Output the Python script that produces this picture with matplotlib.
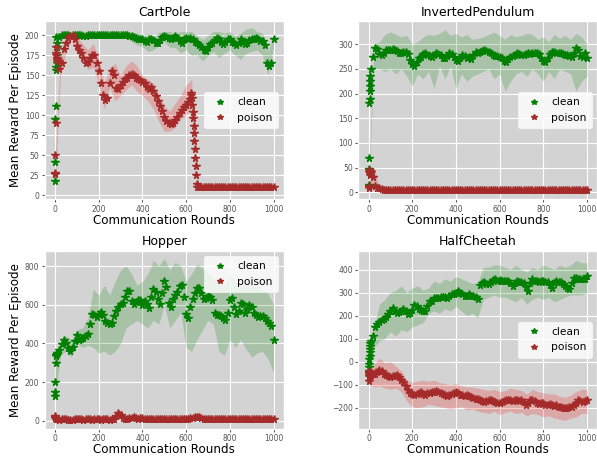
import matplotlib
matplotlib.use("Agg")
import matplotlib.pyplot as plt

plt.style.use("ggplot")

# x positions: single rounds at the start, then every 10 rounds
rounds = list(range(10)) + list(range(10, 1001, 10))
band_rounds = list(range(0, 1001, 25))

# ---------------- CartPole ----------------
cp_clean = [18, 41, 95, 112, 198, 157, 160, 165, 175, 185,
            190, 198, 200, 200, 200, 200, 199, 199, 200, 200,
            200, 200, 199, 199, 200, 200, 200, 200, 200, 200,
            200, 200, 200, 200, 200, 200, 200, 200, 200, 200,
            200, 200, 200, 199, 199, 198, 197, 196, 196, 195,
            193, 192, 195, 196, 194, 191, 190, 194, 198, 199,
            198, 197, 195, 197, 199, 197, 193, 191, 195, 197,
            196, 197, 195, 192, 191, 188, 185, 182, 181, 186,
            189, 191, 194, 197, 196, 192, 189, 192, 196, 195,
            192, 190, 188, 191, 195, 192, 189, 190, 194, 195,
            196, 197, 195, 193, 193, 188, 165, 162, 166, 195]
cp_clean_lo = [15, 195, 197, 197, 198, 198, 198, 199, 199, 199, 199, 199, 199, 197,
               192, 188, 186, 180, 182, 188, 192, 185, 185, 178, 182, 175, 176, 168,
               175, 180, 172, 178, 182, 175, 170, 178, 180, 182, 175, 150, 185]
cp_clean_hi = [25, 201, 202, 202, 201, 201, 201, 201, 201, 201, 201, 201, 201, 201,
               202, 203, 200, 202, 198, 204, 205, 205, 203, 205, 205, 205, 200, 195,
               200, 205, 205, 203, 205, 200, 203, 208, 210, 205, 203, 180, 200]

cp_poison_rounds = (list(range(10)) + list(range(10, 621, 10))
                    + list(range(622, 650, 2)) + list(range(650, 1001, 10)))
cp_poison = ([26, 28, 50, 90, 185, 178, 175, 172, 170, 168,
              170, 158, 165, 183, 190, 197, 199, 200, 196, 187,
              182, 178, 172, 166, 167, 172, 176, 175, 165, 156,
              140, 125, 119, 122, 140, 155, 150, 134, 133, 138,
              142, 145, 147, 150, 152, 150, 147, 145, 144, 142,
              140, 136, 133, 135, 130, 124, 118, 112, 105, 98,
              93, 90, 89, 90, 94, 98, 103, 107, 110, 113,
              117, 121,
              125, 128, 122, 113, 104, 96, 87, 78, 68, 58, 47, 36, 25, 14]
             + [10] * 36)
cp_poison_lo = [10, 150, 180, 195, 178, 170, 158, 160, 140, 108, 135, 118, 125, 132,
                138, 130, 125, 118, 108, 92, 80, 80, 85, 95, 100, 110, 9, 9,
                9, 9, 9, 9, 9, 9, 9, 9, 9, 9, 9, 9, 9]
cp_poison_hi = [40, 175, 195, 203, 198, 190, 182, 190, 172, 140, 160, 165, 150, 162,
                168, 162, 150, 145, 140, 125, 112, 105, 115, 125, 138, 145, 11, 11,
                11, 11, 11, 11, 11, 11, 11, 11, 11, 11, 11, 11, 11]

# ---------------- InvertedPendulum ----------------
ip_clean = [12, 15, 48, 70, 180, 190, 205, 215, 225, 235,
            250, 275, 293, 290, 280, 278, 283, 288, 289, 289,
            290, 288, 286, 282, 283, 285, 284, 280, 268, 260,
            255, 265, 272, 275, 280, 282, 279, 276, 275, 278,
            282, 281, 278, 273, 272, 276, 282, 280, 275, 268,
            266, 272, 278, 276, 273, 275, 270, 278, 285, 283,
            284, 286, 288, 287, 284, 282, 279, 277, 276, 275,
            272, 266, 265, 270, 275, 276, 279, 282, 281, 279,
            278, 280, 282, 281, 282, 283, 282, 280, 272, 266,
            265, 272, 280, 285, 284, 283, 282, 282, 280, 279,
            278, 276, 274, 282, 292, 288, 277, 275, 282, 272]
ip_clean_lo = [5, 250, 250, 245, 250, 240, 250, 235, 215, 240, 230, 245, 210, 255,
               230, 255, 210, 240, 225, 235, 240, 245, 250, 230, 240, 205, 225, 240,
               245, 235, 250, 240, 225, 245, 230, 250, 245, 240, 205, 225, 235]
ip_clean_hi = [20, 300, 305, 320, 325, 320, 315, 318, 300, 305, 315, 320, 318, 322,
               330, 318, 322, 315, 320, 310, 312, 315, 320, 325, 318, 310, 320, 315,
               318, 322, 320, 310, 315, 305, 320, 312, 318, 310, 322, 315, 300]

ip_poison = ([10, 8, 12, 45, 40, 38, 35, 42, 40, 38,
              40, 30, 12, 9, 8, 7, 5, 4, 4, 4]
             + [4] * 90)
ip_poison_lo = [3, 10, 3, 3] + [3] * 37
ip_poison_hi = [15, 50, 12, 5] + [5] * 37

# ---------------- Hopper ----------------
hp_clean = [130, 150, 200, 300, 340, 335, 340, 345, 348, 350,
            352, 365, 395, 420, 400, 375, 360, 380, 415, 442,
            420, 425, 430, 438, 450, 500, 550, 545, 535, 550,
            565, 545, 515, 505, 500, 505, 540, 570, 590, 605,
            610, 640, 670, 670, 620, 602, 615, 623, 625, 600,
            620, 605, 585, 640, 680, 665, 630, 605, 660, 725,
            690, 610, 590, 630, 650, 665, 695, 700, 640, 550,
            530, 590, 630, 660, 685, 685, 660, 632, 635, 645,
            640, 625, 560, 545, 545, 540, 530, 522, 560, 625,
            635, 590, 550, 570, 610, 605, 560, 580, 600, 590,
            560, 545, 535, 540, 540, 530, 518, 505, 490, 420]
hp_clean_lo = [120, 340, 360, 330, 400, 380, 390, 380, 350, 360, 340, 360, 400, 480,
               500, 520, 500, 480, 520, 500, 600, 480, 520, 560, 380, 360, 420, 470,
               520, 500, 360, 340, 420, 380, 420, 370, 330, 350, 360, 320, 250]
hp_clean_hi = [350, 400, 440, 420, 470, 480, 530, 680, 650, 700, 650, 720, 780, 800,
               760, 700, 720, 760, 830, 800, 840, 780, 820, 800, 720, 760, 810, 790,
               760, 740, 720, 700, 760, 720, 700, 720, 710, 700, 680, 660, 600]

hp_poison = [25, 20, 15, 12, 10, 10, 9, 9, 8, 8,
             8, 7, 8, 9, 8, 7, 6, 7, 8, 8,
             9, 8, 7, 8, 9, 8, 7, 8, 9, 8,
             7, 8, 9, 8, 7, 8, 12, 28, 42, 32,
             15, 8, 10, 14, 17, 18, 15, 12, 13, 14,
             12, 10, 9, 10, 9, 8, 9, 10, 9, 8,
             8, 9, 10, 9, 8, 9, 10, 11, 10, 11,
             12, 13, 15, 18, 20, 22, 15, 10, 9, 8,
             8, 9, 8, 9, 8, 9, 8, 9, 8, 9,
             8, 9, 8, 8, 9, 8, 9, 8, 9, 8,
             8, 9, 8, 9, 8, 9, 8, 9, 8, 9]
hp_poison_lo = [5, 2, 2, 2, 2, 2, 2, 2, 2, 2, 2, 10, 15, 2, 2, 2, 2, 2, 2, 2, 2,
                2, 2, 2, 2, 5, 8, 2, 2, 2, 2, 2, 2, 2, 2, 2, 2, 2, 2, 2, 2]
hp_poison_hi = [40, 15, 14, 14, 15, 15, 14, 15, 14, 15, 16, 30, 58, 22, 25, 22, 20, 18, 16, 15, 16,
                16, 17, 18, 20, 30, 35, 18, 15, 15, 15, 15, 15, 15, 15, 15, 15, 15, 15, 15, 15]

# ---------------- HalfCheetah ----------------
hc_clean = [-60, -45, -25, -10, 10, 25, 40, 55, 70, 80,
            90, 112, 150, 165, 172, 180, 185, 192, 205, 222,
            234, 222, 213, 218, 222, 227, 220, 206, 210, 225,
            248, 240, 228, 225, 222, 220, 240, 262, 265, 275,
            278, 276, 280, 283, 280, 278, 285, 292, 295, 300,
            306, 300, 292, 285, 287, 292, 285, 285, 280, 272,
            335, 340, 345, 337, 338, 345, 355, 358, 352, 355,
            351, 350, 352, 350, 340, 330, 340, 351, 348, 344,
            340, 325, 308, 340, 358, 352, 351, 348, 351, 350,
            346, 344, 335, 322, 340, 351, 348, 344, 338, 330,
            320, 315, 340, 365, 362, 360, 358, 358, 358, 372]
hc_clean_lo = [-80, 60, 90, 100, 130, 110, 140, 130, 150, 160, 170, 210, 220, 210,
               230, 220, 240, 220, 200, 210, 190, 270, 280, 290, 280, 280, 270, 260,
               280, 250, 270, 280, 270, 280, 260, 270, 280, 290, 290, 290, 300]
hc_clean_hi = [-30, 150, 250, 270, 300, 310, 330, 300, 320, 330, 310, 320, 350, 340,
               360, 350, 370, 360, 350, 340, 340, 410, 410, 420, 420, 410, 400, 420,
               400, 390, 410, 400, 420, 410, 400, 420, 410, 420, 440, 430, 430]

hc_poison = [-40, -60, -85, -50, -55, -60, -62, -58, -56, -57,
             -59, -55, -52, -45, -38, -42, -52, -58, -60, -65,
             -64, -60, -58, -68, -80, -90, -105, -125, -135, -140,
             -145, -140, -135, -133, -140, -145, -138, -135, -132, -130,
             -128, -133, -138, -140, -145, -147, -145, -140, -136, -132,
             -138, -145, -146, -147, -146, -150, -155, -158, -160, -162,
             -167, -170, -174, -172, -168, -167, -170, -175, -180, -181,
             -175, -170, -167, -168, -166, -170, -168, -167, -172, -167,
             -175, -188, -180, -168, -167, -172, -180, -182, -178, -181,
             -186, -188, -185, -188, -192, -190, -196, -198, -200, -203,
             -200, -198, -196, -190, -178, -168, -170, -175, -170, -167]
hc_poison_lo = [-95, -110, -105, -115, -120, -115, -130, -170, -195, -200, -195, -185, -190, -195,
                -200, -205, -200, -195, -210, -205, -215, -220, -225, -215, -230, -220, -215, -225,
                -220, -235, -225, -230, -240, -235, -245, -250, -255, -245, -240, -225, -225]
hc_poison_hi = [-30, -10, 15, -5, 0, -20, -40, -80, -90, -85, -80, -85, -80, -90,
                -95, -100, -95, -105, -110, -110, -115, -120, -125, -120, -130, -125, -115, -120,
                -125, -140, -120, -130, -135, -140, -140, -150, -155, -145, -130, -120, -120]


def panel(ax, title, xc, clean, clo, chi, xp, poison, plo, phi, ylim, yticks, loc):
    ax.set_facecolor("lightgray")
    ax.fill_between(band_rounds, clo, chi, color="green", alpha=0.2, lw=0)
    ax.fill_between(band_rounds, plo, phi, color="red", alpha=0.2, lw=0)
    ax.plot(xc, clean, "*", color="green", ms=5.5, label="clean")
    ax.plot(xp, poison, "*", color="brown", ms=5.5, label="poison")
    ax.set_title(title, fontsize=9, color="black", pad=4)
    ax.set_xlabel("Communication Rounds", fontsize=8.6, color="black", labelpad=0)
    ax.set_xlim(-46, 1046)
    ax.set_ylim(*ylim)
    ax.set_xticks([0, 200, 400, 600, 800, 1000])
    ax.set_yticks(yticks)
    ax.tick_params(labelsize=5.5, colors="#555555", length=2.5, pad=1.5)
    ax.legend(loc=loc, fontsize=7.7, facecolor="white", edgecolor="white",
              framealpha=0.8, borderpad=0.5, handletextpad=0.6, markerscale=0.75)


fig, axes = plt.subplots(2, 2, figsize=(5.97, 4.59), dpi=100)
fig.patch.set_facecolor("white")
fig.subplots_adjust(left=0.0754, right=1.0, top=0.954, bottom=0.066,
                    wspace=0.314, hspace=0.29)

panel(axes[0, 0], "CartPole", rounds, cp_clean, cp_clean_lo, cp_clean_hi,
      cp_poison_rounds, cp_poison, cp_poison_lo, cp_poison_hi,
      (-5, 218), range(0, 201, 25), "center right")
panel(axes[0, 1], "InvertedPendulum", rounds, ip_clean, ip_clean_lo, ip_clean_hi,
      rounds, ip_poison, ip_poison_lo, ip_poison_hi,
      (-14, 347), range(0, 301, 50), "center right")
panel(axes[1, 0], "Hopper", rounds, hp_clean, hp_clean_lo, hp_clean_hi,
      rounds, hp_poison, hp_poison_lo, hp_poison_hi,
      (-40, 879), range(0, 801, 200), "upper right")
panel(axes[1, 1], "HalfCheetah", rounds, hc_clean, hc_clean_lo, hc_clean_hi,
      rounds, hc_poison, hc_poison_lo, hc_poison_hi,
      (-291, 482), range(-200, 401, 100), "center right")

for ax in axes[:, 0]:
    ax.set_ylabel("Mean Reward Per Episode", fontsize=8.6, color="black", labelpad=2)

fig.savefig("out.png", dpi=100)
